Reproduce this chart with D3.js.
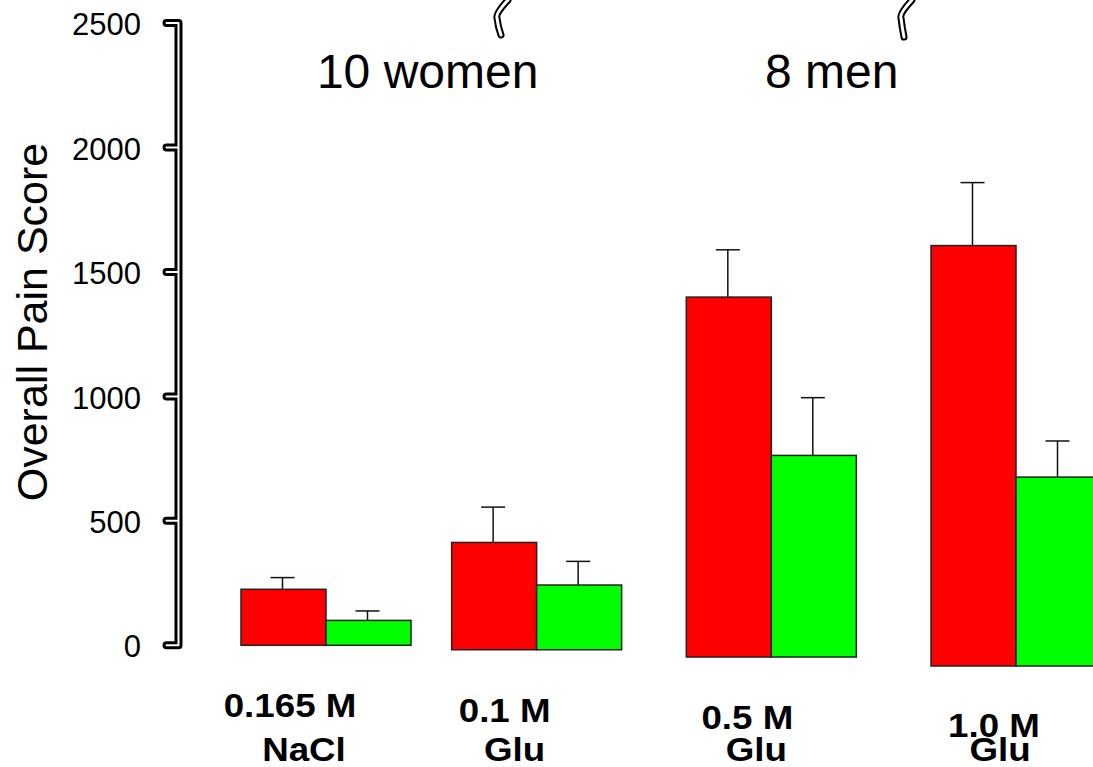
<!DOCTYPE html>
<html>
<head>
<meta charset="utf-8">
<script src="https://cdn.jsdelivr.net/npm/d3@7"></script>
<style>
  html, body { margin: 0; padding: 0; background: #fff; }
  svg { display: block; }
  text { font-family: "Liberation Sans", Arial, sans-serif; }
</style>
</head>
<body>
<svg id="chart" width="1093" height="767"></svg>
<script>
// ---- data ----
const concentrations = ["0.165 M", "0.1 M", "0.5 M", "1.0 M"];
const solutions = ["NaCl", "Glu", "Glu", "Glu"];
const redValues = [225, 431, 1446, 1689];
const redErrors = [47, 142, 190, 253];
const greenValues = [100, 260, 810, 759];
const greenErrors = [38, 95, 232, 145];
const yTicks = [0, 500, 1000, 1500, 2000, 2500];
const groupTitles = ["10 women", "8 men"];
const yTitle = "Overall Pain Score";

// ---- layout ----
const svg = d3.select("#chart");
const barW = 85;
const idx = d3.range(concentrations.length);

const y = d3.scaleLinear().domain([0, 2500]).range([645.3, 23]);
// group centre (boundary between the red and green bar)
const x = d3.scalePow().exponent(1.08).domain([0, 3]).range([326, 1016]);
// baseline of each group sinks slightly to the right (as in the scanned figure)
const drop = d3.scalePow().exponent(1.4).domain([0, 3]).range([0, 20.7]);

const RED = "#ff0000", GREEN = "#00ff00";

const bars = svg.append("g");
const series = [
  { vals: redValues, errs: redErrors, color: RED, off: -barW },
  { vals: greenValues, errs: greenErrors, color: GREEN, off: 0 }
];

series.forEach(s => {
  const g = bars.append("g");
  g.selectAll("line.err").data(idx).join("line")
    .attr("class", "err")
    .attr("x1", i => x(i) + s.off + barW / 2 - 1)
    .attr("x2", i => x(i) + s.off + barW / 2 - 1)
    .attr("y1", i => y(s.vals[i]) + drop(i))
    .attr("y2", i => y(s.vals[i] + s.errs[i]) + drop(i))
    .attr("stroke", "#111").attr("stroke-width", 1.5);
  g.selectAll("line.cap").data(idx).join("line")
    .attr("class", "cap")
    .attr("x1", i => x(i) + s.off + barW / 2 - 13)
    .attr("x2", i => x(i) + s.off + barW / 2 + 11)
    .attr("y1", i => y(s.vals[i] + s.errs[i]) + drop(i))
    .attr("y2", i => y(s.vals[i] + s.errs[i]) + drop(i))
    .attr("stroke", "#111").attr("stroke-width", 1.5);
  g.selectAll("rect").data(idx).join("rect")
    .attr("x", i => x(i) + s.off)
    .attr("width", barW)
    .attr("y", i => y(s.vals[i]) + drop(i))
    .attr("height", i => y(0) - y(s.vals[i]))
    .attr("fill", s.color)
    .attr("stroke", "#222").attr("stroke-width", 1.5);
});

// ---- y axis (double-line style) ----
const axX = 178.5, tickLen = 12;
const axisPath = d3.path();
axisPath.moveTo(axX, y(2500));
axisPath.lineTo(axX, y(0));
yTicks.forEach(t => {
  axisPath.moveTo(axX, y(t));
  axisPath.lineTo(axX - tickLen, y(t));
});
const ax = svg.append("g");
ax.append("path").attr("d", axisPath.toString())
  .attr("fill", "none").attr("stroke", "#000").attr("stroke-width", 8)
  .attr("stroke-linecap", "round").attr("stroke-linejoin", "round");
ax.append("path").attr("d", axisPath.toString())
  .attr("fill", "none").attr("stroke", "#fff").attr("stroke-width", 2)
  .attr("stroke-linecap", "round");

ax.selectAll("text").data(yTicks).join("text")
  .attr("x", 141).attr("y", t => y(t) + 1)
  .attr("dy", "0.36em")
  .attr("text-anchor", "end")
  .attr("font-size", 31)
  .text(t => t);

// y title
svg.append("text")
  .attr("transform", "translate(47,322) rotate(-90)")
  .attr("text-anchor", "middle")
  .attr("font-size", 43)
  .text(yTitle);

// group titles
const titleX = [x(0.5) + 2, x(2.5) - 61];
svg.selectAll("text.gt").data(groupTitles).join("text")
  .attr("class", "gt")
  .attr("x", (d, i) => titleX[i])
  .attr("y", 88)
  .attr("text-anchor", "middle")
  .attr("font-size", 48)
  .text(d => d);

// category labels (two lines)
const l1dx = [-36, -32, -24, -22];
const l1base = d3.scalePow().exponent(1.3).domain([0, 3]).range([717, 737]);
const l2dx = [-22, -22, -15, -16];
const lab = svg.append("g").attr("font-weight", "bold");
lab.selectAll("text.l1").data(idx).join("text")
  .attr("class", "l1")
  .attr("transform", i => `translate(${x(i) + l1dx[i]},${l1base(i)}) scale(1.08,1)`)
  .attr("text-anchor", "middle")
  .attr("font-size", 34)
  .text(i => concentrations[i]);
lab.selectAll("text.l2").data(idx).join("text")
  .attr("class", "l2")
  .attr("transform", i => `translate(${x(i) + l2dx[i]},761) scale(1.08,1)`)
  .attr("text-anchor", "middle")
  .attr("font-size", 34)
  .text(i => solutions[i]);

// break squiggles at the top
const squig = [[508, 0, 497, 18, 501, 35], [912, 0, 901, 18, 904, 37]];
squig.forEach(([x0, y0, x1, y1, x2, y2]) => {
  const p = d3.path();
  p.moveTo(x0, y0);
  p.quadraticCurveTo(x1 - 2, y1 - 4, x1, y1);
  p.quadraticCurveTo(x1 + 1, y1 + 9, x2, y2);
  svg.append("path").attr("d", p.toString()).attr("fill", "none")
    .attr("stroke", "#000").attr("stroke-width", 7).attr("stroke-linecap", "round");
  svg.append("path").attr("d", p.toString()).attr("fill", "none")
    .attr("stroke", "#fff").attr("stroke-width", 3).attr("stroke-linecap", "round");
});
</script>
</body>
</html>
